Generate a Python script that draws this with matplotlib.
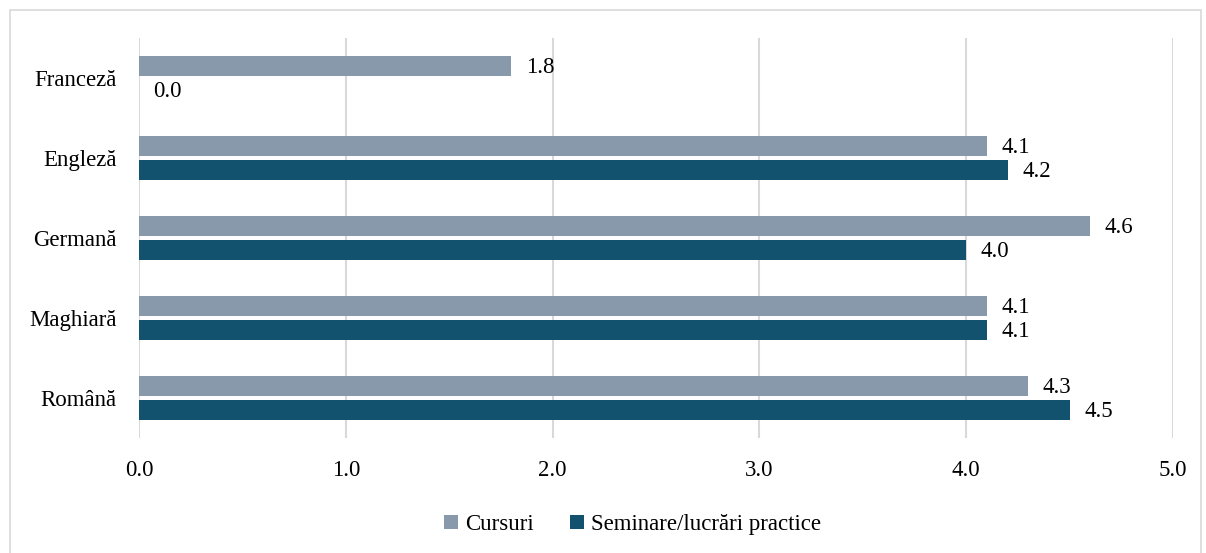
import matplotlib.pyplot as plt
import matplotlib.patches as mpatches
import numpy as np

plt.rcParams['font.family'] = ['Liberation Serif', 'DejaVu Serif']

languages = ['Franceză', 'Engleză', 'Germană', 'Maghiară', 'Română']
cursuri = [1.8, 4.1, 4.6, 4.1, 4.3]
seminare = [0.0, 4.2, 4.0, 4.1, 4.5]
series_names = ['Cursuri', 'Seminare/lucrări practice']
colors = ['#8799AB', '#12526E']

fig = plt.figure(figsize=(12.06, 5.53), dpi=100)
ax = fig.add_axes([0.1153, 0.208, 0.8574, 0.723])

y = np.arange(len(languages))[::-1]
h = 0.25
off = 0.15
b1 = ax.barh(y + off, cursuri, height=h, color=colors[0], label=series_names[0])
b2 = ax.barh(y - off, seminare, height=h, color=colors[1], label=series_names[1])

for bars in (b1, b2):
    for rect in bars:
        w = rect.get_width()
        ax.text(w + 0.07, rect.get_y() + rect.get_height() / 2 - 0.02, f'{w:.1f}',
                va='center', ha='left', fontsize=16.5, color='#000000')

ax.set_xlim(0, 5)
ax.set_ylim(-0.5, 4.5)
ax.set_xticks(np.arange(0, 5.1, 1))
ax.set_xticklabels([f'{v:.1f}' for v in np.arange(0, 5.1, 1)])
ax.set_yticks(y)
ax.set_yticklabels(languages)
ax.tick_params(axis='both', length=0, labelsize=16.5)
ax.tick_params(axis='x', pad=16)
ax.tick_params(axis='y', pad=16)
ax.grid(axis='x', color='#D9D9D9', linewidth=1.5)
ax.set_axisbelow(True)
for s in ax.spines.values():
    s.set_visible(False)

ax.legend(loc='lower center', bbox_to_anchor=(0.477, -0.295), ncol=2, frameon=False,
          fontsize=16.5, handlelength=0.6, handleheight=0.6, handletextpad=0.3,
          columnspacing=1.6)

fig.patches.append(mpatches.Rectangle((0.008, -0.01), 0.988, 0.992, transform=fig.transFigure,
                                      fill=False, edgecolor='#D9D9D9', linewidth=1.2))

fig.savefig('out.png', dpi=100)
